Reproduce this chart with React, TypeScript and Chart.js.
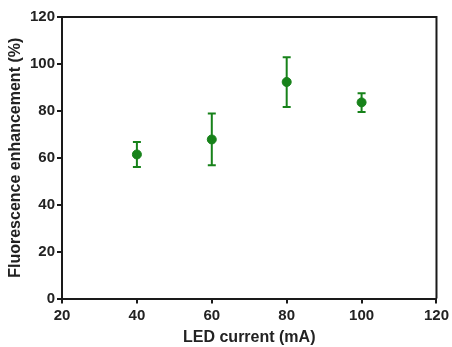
import React, { useEffect, useRef } from "react";
import { Chart, registerables } from "chart.js";

Chart.register(...registerables);

const ledCurrent = [40, 60, 80, 100];
const enhancement = [61.4, 67.8, 92.3, 83.6];
const errLow = [56.1, 56.8, 81.6, 79.5];
const errHigh = [66.7, 78.9, 102.8, 87.5];
const xTicks = [20, 40, 60, 80, 100, 120];
const yTicks = [0, 20, 40, 60, 80, 100, 120];

const GREEN = "#17821a";
const AXIS = "#1a1a1a";
const FONT = "'Liberation Sans', Arial, sans-serif";

const errorBarPlugin = {
  id: "errorBars",
  afterDatasetsDraw(chart: any) {
    const ctx = chart.ctx;
    const xs = chart.scales.x;
    const ys = chart.scales.y;
    ctx.save();
    ctx.strokeStyle = GREEN;
    ctx.lineWidth = 2;
    ledCurrent.forEach((x, i) => {
      const px = xs.getPixelForValue(x);
      const lo = ys.getPixelForValue(errLow[i]);
      const hi = ys.getPixelForValue(errHigh[i]);
      ctx.beginPath();
      ctx.moveTo(px, lo);
      ctx.lineTo(px, hi);
      ctx.moveTo(px - 4, lo);
      ctx.lineTo(px + 4, lo);
      ctx.moveTo(px - 4, hi);
      ctx.lineTo(px + 4, hi);
      ctx.stroke();
    });
    ctx.restore();
  },
  afterDraw(chart: any) {
    const { left, right, top, bottom } = chart.chartArea;
    const ctx = chart.ctx;
    ctx.save();
    ctx.strokeStyle = AXIS;
    ctx.lineWidth = 2;
    ctx.beginPath();
    ctx.moveTo(left, top);
    ctx.lineTo(right, top);
    ctx.lineTo(right, bottom);
    ctx.stroke();
    ctx.restore();
  },
};

export default function App() {
  const ref = useRef<HTMLCanvasElement>(null);
  useEffect(() => {
    document.body.style.margin = "0";
    const chart = new Chart(ref.current!, {
      type: "scatter",
      data: {
        datasets: [
          {
            data: ledCurrent.map((x, i) => ({ x, y: enhancement[i] })),
            backgroundColor: GREEN,
            borderColor: GREEN,
            pointRadius: 4.5,
          },
        ],
      },
      options: {
        animation: false,
        responsive: false,
        events: [],
        layout: { padding: { top: 17, right: 13, left: 0, bottom: 0 } },
        plugins: { legend: { display: false }, tooltip: { enabled: false } },
        scales: {
          x: {
            type: "linear",
            min: 20,
            max: 120,
            afterBuildTicks: (s: any) => {
              s.ticks = xTicks.map((v) => ({ value: v }));
            },
            afterFit: (s: any) => {
              s.height = 48.5;
            },
            border: { color: AXIS, width: 2 },
            grid: { drawOnChartArea: false, tickLength: 5, color: AXIS, lineWidth: 2 },
            ticks: { color: "#222", font: { family: FONT, size: 15, weight: "bold" }, padding: 3 },
            title: {
              display: true,
              text: "LED current (mA)",
              color: "#222",
              font: { family: FONT, size: 16, weight: "bold" },
              padding: { top: 0, bottom: 0 },
            },
          },
          y: {
            type: "linear",
            min: 0,
            max: 120,
            afterBuildTicks: (s: any) => {
              s.ticks = yTicks.map((v) => ({ value: v }));
            },
            afterFit: (s: any) => {
              s.width = 62;
            },
            border: { color: AXIS, width: 2 },
            grid: { drawOnChartArea: false, tickLength: 5, color: AXIS, lineWidth: 2 },
            ticks: { color: "#222", font: { family: FONT, size: 15, weight: "bold" }, padding: 2 },
            title: {
              display: true,
              text: "Fluorescence enhancement (%)",
              color: "#222",
              font: { family: FONT, size: 16, weight: "bold" },
              padding: { top: 6, bottom: 0 },
            },
          },
        },
      },
      plugins: [errorBarPlugin],
    } as any);
    return () => chart.destroy();
  }, []);
  return <canvas ref={ref} width={452} height={347} style={{ display: "block" }} />;
}
